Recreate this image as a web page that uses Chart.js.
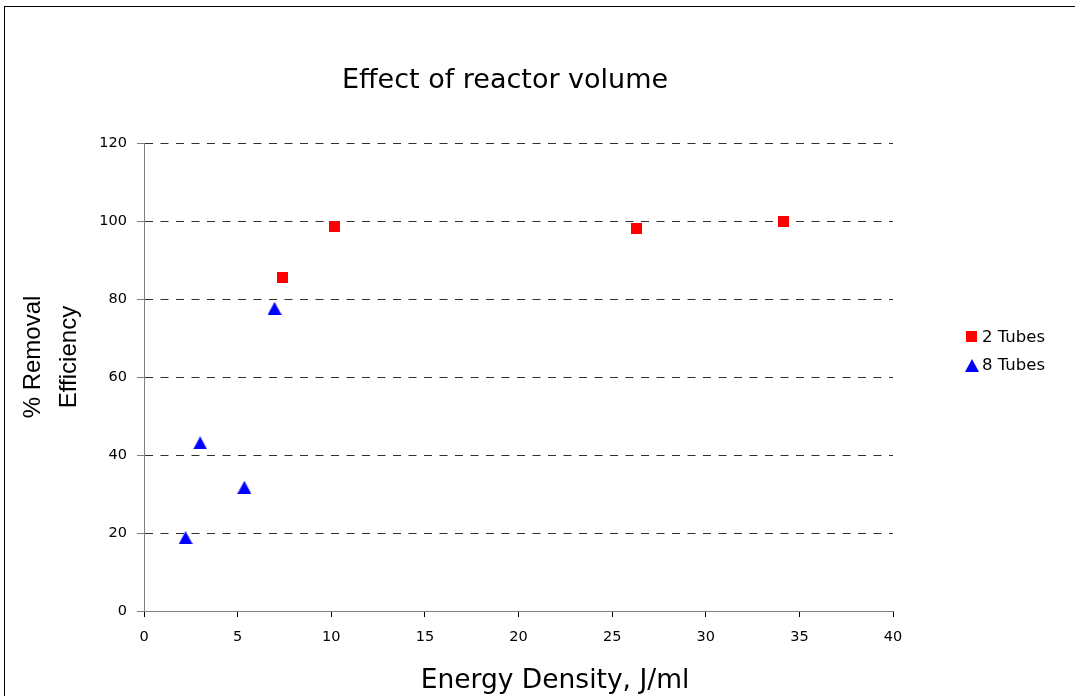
<!DOCTYPE html>
<html>
<head>
<meta charset="utf-8">
<script src="https://cdn.jsdelivr.net/npm/chart.js@4/dist/chart.umd.min.js"></script>
<style>
  html, body { margin: 0; padding: 0; background: #fff; overflow: hidden; }
  #wrap { position: relative; width: 1075px; height: 696px; }
  #frame { position: absolute; left: 4px; top: 6px; width: 2000px; height: 2000px; border-left: 1px solid #000; border-top: 1px solid #000; pointer-events: none; }
  canvas { position: absolute; left: 0; top: 0; }
</style>
</head>
<body>
<div id="wrap">
  <canvas id="c" width="1075" height="696"></canvas>
  <div id="frame"></div>
</div>
<script>
// ---- data ----
const seriesNames = ['2 Tubes', '8 Tubes'];
const tubes2X = [7.4, 10.15, 26.3, 34.15];
const tubes2Y = [85.4, 98.5, 98.2, 100.0];
const tubes8X = [2.22, 3.0, 5.36, 6.97];
const tubes8Y = [18.8, 43.1, 31.7, 77.6];
const xTicks = [0, 5, 10, 15, 20, 25, 30, 35, 40];
const yTicks = [0, 20, 40, 60, 80, 100, 120];
const chartTitle = 'Effect of reactor volume';
const xTitle = 'Energy Density, J/ml';
const yTitle = ['% Removal', 'Efficiency'];

const TAHOMA = '"DejaVu Sans", Verdana, sans-serif';
const ARIAL = '"Liberation Sans", Arial, sans-serif';

function makeMarker(kind, color) {
  const cv = document.createElement('canvas');
  const w = kind === 'square' ? 11 : 14;
  const h = kind === 'square' ? 11 : 13;
  cv.width = w; cv.height = h;
  const g = cv.getContext('2d');
  g.fillStyle = color;
  if (kind === 'square') {
    g.fillRect(0, 0, w, h);
  } else {
    g.beginPath();
    g.moveTo(w / 2, 0);
    g.lineTo(w, h);
    g.lineTo(0, h);
    g.closePath();
    g.fill();
  }
  return cv;
}
const squareMarker = makeMarker('square', '#ff0000');
const triMarker = makeMarker('triangle', '#0000ff');

const toPoints = (xs, ys) => xs.map((x, i) => ({ x: x, y: ys[i] }));

const textPlugin = {
  id: 'texts',
  afterDraw(chart) {
    const ctx = chart.ctx;
    ctx.save();
    ctx.fillStyle = '#000';
    // main title
    ctx.font = '27px ' + TAHOMA;
    ctx.textAlign = 'center';
    ctx.textBaseline = 'alphabetic';
    ctx.fillText(chartTitle, 505, 88);
    // x title
    ctx.font = '26.5px ' + TAHOMA;
    ctx.fillText(xTitle, 555, 688);
    // y title (rotated)
    ctx.font = '24px ' + ARIAL;
    ctx.translate(0, 357);
    ctx.rotate(-Math.PI / 2);
    ctx.fillText(yTitle[0], 0, 40);
    ctx.fillText(yTitle[1], 0, 76);
    ctx.restore();

    // legend
    ctx.save();
    ctx.font = '16.5px ' + TAHOMA;
    ctx.textAlign = 'left';
    ctx.textBaseline = 'alphabetic';
    ctx.fillStyle = '#000';
    const ds = chart.data.datasets;
    const rows = [{ y: 336, base: 342 }, { y: 365, base: 370 }];
    ds.forEach((d, i) => {
      const img = d.pointStyle;
      ctx.drawImage(img, Math.round(971.5 - img.width / 2), Math.round(rows[i].y - img.height / 2));
      ctx.fillText(d.label, 982, rows[i].base);
    });
    ctx.restore();
  }
};

new Chart(document.getElementById('c'), {
  type: 'scatter',
  data: {
    datasets: [
      { label: seriesNames[0], data: toPoints(tubes2X, tubes2Y), pointStyle: squareMarker, backgroundColor: '#ff0000', borderColor: '#ff0000' },
      { label: seriesNames[1], data: toPoints(tubes8X, tubes8Y), pointStyle: triMarker, backgroundColor: '#0000ff', borderColor: '#0000ff' }
    ]
  },
  options: {
    responsive: false,
    animation: false,
    events: [],
    layout: { padding: { top: 143, left: 0, right: 182, bottom: 0 } },
    plugins: { legend: { display: false }, title: { display: false }, tooltip: { enabled: false } },
    scales: {
      x: {
        type: 'linear',
        min: 0, max: 40,
        afterFit(s) { s.height = 85; },
        afterBuildTicks(s) { s.ticks = xTicks.map(v => ({ value: v })); },
        ticks: { color: '#000', font: { family: TAHOMA, size: 14.5 }, padding: 12, maxRotation: 0 },
        grid: { drawOnChartArea: false, drawTicks: true, tickLength: 6, tickColor: '#000', color: '#000' },
        border: { display: true, color: '#808080', width: 1 }
      },
      y: {
        type: 'linear',
        min: 0, max: 120,
        afterFit(s) { s.width = 144; },
        afterBuildTicks(s) { s.ticks = yTicks.map(v => ({ value: v })); },
        ticks: { color: '#000', font: { family: TAHOMA, size: 14.5 }, padding: 10 },
        grid: {
          drawTicks: true, tickLength: 7,
          color: (c) => (c.tick && c.tick.value === 0) ? 'rgba(0,0,0,0)' : '#303030',
          tickColor: '#808080', lineWidth: 1
        },
        border: { display: true, color: '#808080', width: 1, dash: [8, 7.5] }
      }
    }
  },
  plugins: [textPlugin]
});
</script>
</body>
</html>
